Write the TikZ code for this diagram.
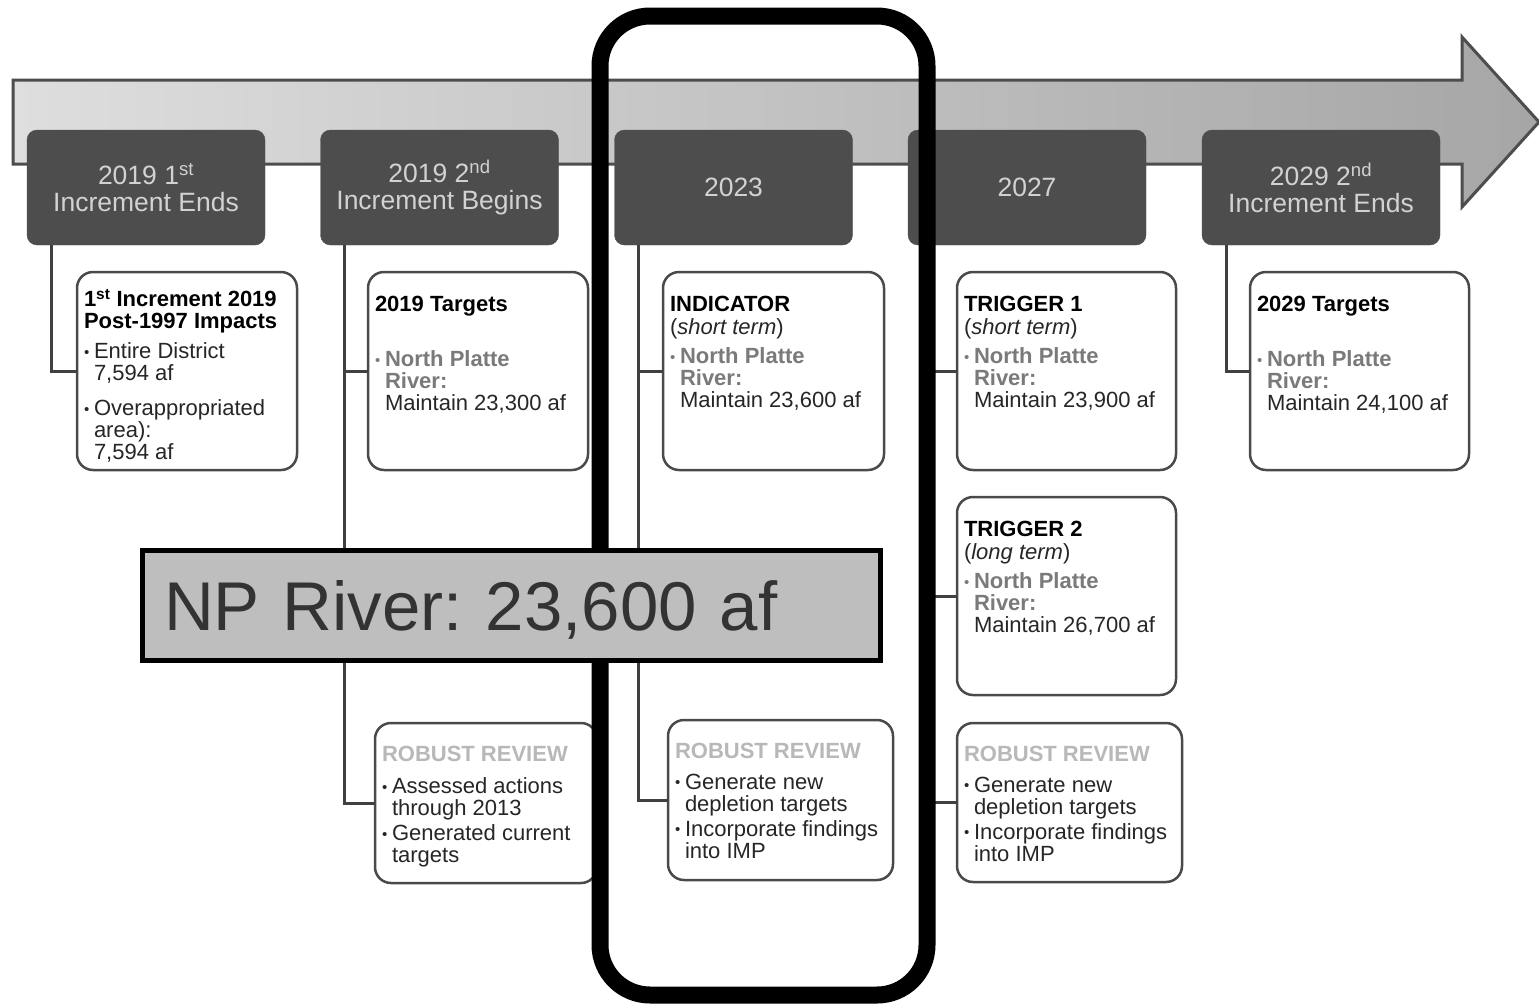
\documentclass[tikz,border=0pt]{standalone}
\usepackage{fontspec}
\setmainfont{Liberation Sans}

\definecolor{hdrfill}{HTML}{4D4D4D}
\definecolor{hdrtext}{HTML}{D2D2D2}
\definecolor{cardline}{HTML}{4A4A4A}
\definecolor{linkline}{HTML}{404040}
\definecolor{bodytext}{HTML}{262626}
\definecolor{riverg}{HTML}{7A7A7A}
\definecolor{reviewg}{HTML}{B8B8B8}
\definecolor{npfill}{HTML}{BEBEBE}
\definecolor{nptext}{HTML}{333333}
\definecolor{arrowl}{HTML}{DEDEDE}
\definecolor{arrowr}{HTML}{A6A6A6}

\newcommand{\hdrfont}{\fontsize{26.5}{27}\selectfont}
\newcommand{\cardfont}{\fontsize{22}{22}\selectfont}
\newcommand{\npfont}{\fontsize{69}{76}\selectfont\frenchspacing}
% card body: width, height, space above first line, text
\newcommand{\cardtext}[4]{\parbox[t][#2][t]{#1}{\vspace*{#3}\strut #4}}
\newcommand{\bltmark}{\makebox[10pt][l]{\raisebox{1.5pt}{\fontsize{15}{15}\selectfont\textbullet}}}
\newcommand{\blt}[1][7pt]{\par\vspace{#1}\hangindent=10pt\hangafter=1\noindent\bltmark}
\newcommand{\ttl}[1]{\textcolor{black}{\textbf{#1}}}
\newcommand{\npitem}[2][7pt]{\par\vspace{#1}\hangindent=10pt\hangafter=1\noindent
  \textcolor{riverg}{\bltmark\textbf{North Platte}\\\textbf{River:}}\\Maintain #2}
\newcommand{\review}{\textcolor{reviewg}{\textbf{ROBUST REVIEW}}}

\tikzset{
  hdr/.style={fill=hdrfill, draw=hdrfill, rounded corners=10, minimum width=238,
    minimum height=115, inner sep=0, outer sep=0, align=center, text=hdrtext, font=\hdrfont},
  card/.style={draw=cardline, line width=2.5, rounded corners=16, fill=white, anchor=north west,
    inner xsep=7, inner ysep=0, outer sep=0, text=bodytext, font=\cardfont},
  link/.style={draw=linkline, line width=3},
  frame/.style={draw=black, line width=17, rounded corners=50},
  npbox/.style={draw=black, line width=5, fill=npfill, minimum width=738, minimum height=110,
    text width=694, inner xsep=22, align=left, text=nptext, font=\npfont, text depth=0pt}
}

\begin{document}
\begin{tikzpicture}[x=1pt, y=-1pt]
\useasboundingbox (0,0) rectangle (1539,1004);

% timeline arrow
\draw[draw=hdrfill, line width=3, left color=arrowl, right color=arrowr]
  (13,80) -- (1462,80) -- (1462,37) -- (1539,122) -- (1462,207) -- (1462,164) -- (13,164) -- cycle;

% milestones
\node[hdr] (h1) at (146,187.5) {2019 1\textsuperscript{st}\\Increment Ends};
\node[hdr] (h2) at (439.5,187.5) {2019 2\textsuperscript{nd}\\Increment Begins};
\node[hdr] (h3) at (733.5,187.5) {2023};
\node[hdr] (h4) at (1027,187.5) {2027};
\node[hdr] (h5) at (1321,187.5) {2029 2\textsuperscript{nd}\\Increment Ends};

% cards
\node[card] (c1) at (77,272) {\cardtext{206pt}{198pt}{17pt}{%
  \ttl{1\textsuperscript{st} Increment 2019}\\\ttl{Post-1997 Impacts}%
  \blt[8pt]Entire District\\7,594 af%
  \blt[13pt]Overappropriated\\area):\\7,594 af}};
\node[card] (c2) at (368,272) {\cardtext{206pt}{198pt}{24pt}{%
  \ttl{2019 Targets}\npitem[32pt]{23,300 af}}};
\node[card] (c3) at (663,272) {\cardtext{207pt}{198pt}{24pt}{%
  \ttl{INDICATOR}\\(\textit{short term})\npitem{23,600 af}}};
\node[card] (c4) at (957,272) {\cardtext{205pt}{198pt}{24pt}{%
  \ttl{TRIGGER 1}\\(\textit{short term})\npitem{23,900 af}}};
\node[card] (c5) at (1250,272) {\cardtext{205pt}{198pt}{24pt}{%
  \ttl{2029 Targets}\npitem[32pt]{24,100 af}}};
\node[card] (t2) at (957,497) {\cardtext{205pt}{198pt}{24pt}{%
  \ttl{TRIGGER 2}\\(\textit{long term})\npitem{26,700 af}}};
\node[card] (r2) at (375,723) {\cardtext{208pt}{160pt}{23pt}{%
  \review\blt[9pt]Assessed actions\\through 2013\blt[3pt]Generated current\\targets}};
\node[card] (r3) at (668,720) {\cardtext{211pt}{160pt}{23pt}{%
  \review\blt[9pt]Generate new\\depletion targets\blt[3pt]Incorporate findings\\into IMP}};
\node[card] (r4) at (957,723) {\cardtext{211pt}{159pt}{23pt}{%
  \review\blt[9pt]Generate new\\depletion targets\blt[3pt]Incorporate findings\\into IMP}};

% connectors
\draw[link] ([xshift=24pt]h1.south west) |- (c1.west);
\draw[link] ([xshift=24pt]h2.south west) |- (r2.west);
\draw[link] ([xshift=24pt]h2.south west) |- (c2.west);
\draw[link] ([xshift=24pt]h3.south west) |- (r3.west);
\draw[link] ([xshift=24pt]h3.south west) |- (c3.west);
\draw[link] ([xshift=24pt]h4.south west) |- (r4.west);
\draw[link] ([xshift=24pt]h4.south west) |- (c4.west);
\draw[link] ([xshift=24pt]h4.south west) |- (t2.west);
\draw[link] ([xshift=24pt]h5.south west) |- (c5.west);

% highlight
\draw[frame] (600,16) rectangle (927,995);
\node[npbox] (np) at (511,605) {NP River: 23,600 af};
\end{tikzpicture}
\end{document}
